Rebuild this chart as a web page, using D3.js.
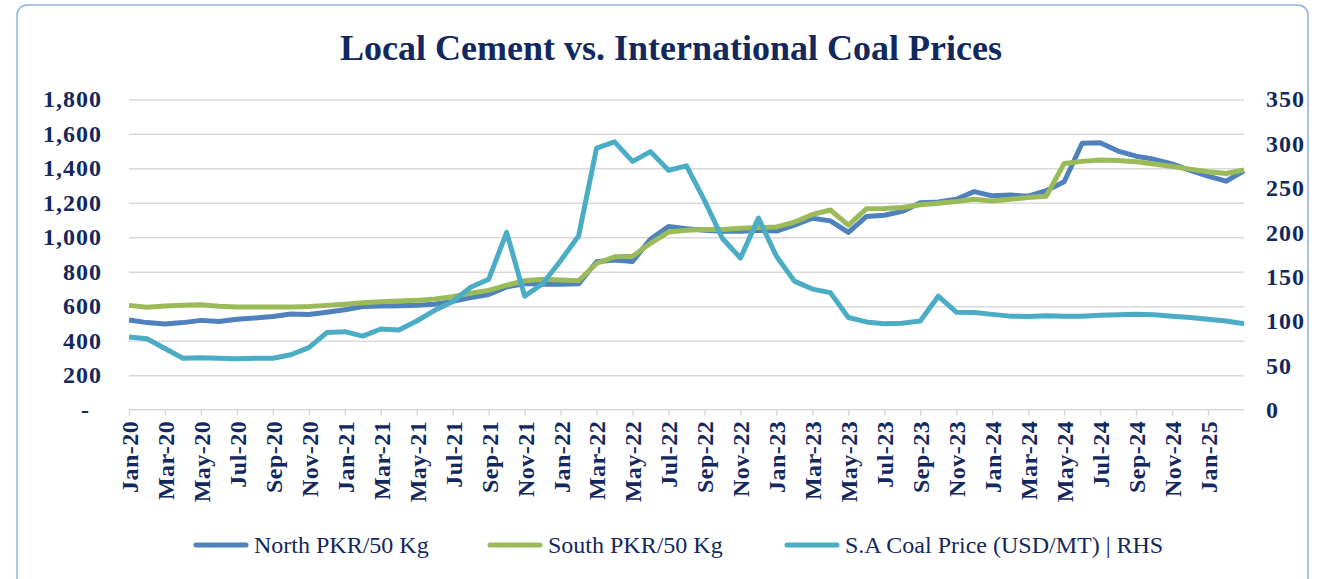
<!DOCTYPE html>
<html>
<head>
<meta charset="utf-8">
<script src="https://cdn.jsdelivr.net/npm/d3@7"></script>
<style>
	body { margin: 0; background: #fff; }
	svg { display: block; }
	.grid line { stroke: #d9d9d9; stroke-width: 1.5; }
	.grid path { display: none; }
	.tick-label text { font-family: 'Liberation Serif', serif; font-weight: bold; font-size: 24px; fill: #13285e; letter-spacing: 1px; }
	.x.axis path, .x.axis line { stroke: #d9d9d9; stroke-width: 1.5; }
	.legend text { font-family: 'Liberation Serif', serif; font-size: 24px; fill: #13285e; }
</style>
</head>
<body>
<div id="chart"></div>
<script>
var months = [
	'Jan-20','Feb-20','Mar-20','Apr-20','May-20','Jun-20','Jul-20','Aug-20','Sep-20','Oct-20','Nov-20','Dec-20',
	'Jan-21','Feb-21','Mar-21','Apr-21','May-21','Jun-21','Jul-21','Aug-21','Sep-21','Oct-21','Nov-21','Dec-21',
	'Jan-22','Feb-22','Mar-22','Apr-22','May-22','Jun-22','Jul-22','Aug-22','Sep-22','Oct-22','Nov-22','Dec-22',
	'Jan-23','Feb-23','Mar-23','Apr-23','May-23','Jun-23','Jul-23','Aug-23','Sep-23','Oct-23','Nov-23','Dec-23',
	'Jan-24','Feb-24','Mar-24','Apr-24','May-24','Jun-24','Jul-24','Aug-24','Sep-24','Oct-24','Nov-24','Dec-24',
	'Jan-25','Feb-25','Mar-25'
];

// PKR per 50 kg bag
var north = [
	520, 505, 497, 505, 518, 512, 525, 532, 540, 555, 552, 565,
	580, 598, 602, 603, 606, 612, 628, 650, 668, 712, 732, 728,
	727, 730, 858, 868, 860, 990, 1062, 1050, 1040, 1035, 1035, 1040,
	1036, 1070, 1110, 1095, 1028, 1120, 1128, 1150, 1200, 1205, 1220, 1265,
	1240, 1245, 1238, 1270, 1322, 1545, 1548, 1500, 1470, 1452, 1425, 1388,
	1355, 1325, 1385
];
var south = [
	605, 594, 602, 606, 608, 600, 596, 595, 595, 596, 598, 605,
	612, 620, 626, 630, 634, 642, 655, 675, 692, 722, 748, 756,
	752, 748, 848, 887, 890, 965, 1030, 1040, 1045, 1045, 1052, 1056,
	1060, 1088, 1132, 1158, 1070, 1165, 1167, 1172, 1188, 1197, 1207, 1220,
	1210, 1220, 1230, 1238, 1428, 1440, 1448, 1445, 1438, 1425, 1410, 1395,
	1380, 1370, 1390
];
// USD per metric ton (right axis)
var coal = [
	82, 80, 69, 58, 58.5, 58, 57.5, 58, 58, 62, 70, 87,
	88, 83, 91, 90, 100, 112, 122, 138, 147, 200, 128, 142,
	168, 196, 295, 302, 280, 291, 270, 275, 236, 193, 171, 216,
	173, 145, 136, 132, 104, 99, 97, 97.5, 100, 128, 110, 109.5,
	107.5, 105.5, 105, 106, 105.5, 105.5, 106.5, 107, 107.5, 107, 105.5, 104,
	102, 100, 97
];

var leftTicks = [0, 200, 400, 600, 800, 1000, 1200, 1400, 1600, 1800];
var rightTicks = [0, 50, 100, 150, 200, 250, 300, 350];

var title = 'Local Cement vs. International Coal Prices';
var seriesNames = ['North PKR/50 Kg', 'South PKR/50 Kg', 'S.A Coal Price (USD/MT) | RHS'];
var colors = ['#4f81bd', '#9bbb59', '#4bacc6'];

var W = 1321, H = 579;
var plot = { left: 129, right: 1244, top: 99.3, bottom: 409.7 };

var svg = d3.select('#chart').append('svg')
	.attr('width', W)
	.attr('height', H);

// outer frame
svg.append('rect')
	.attr('x', 17).attr('y', 5)
	.attr('width', 1291).attr('height', 620)
	.attr('rx', 10)
	.attr('fill', 'none')
	.attr('stroke', '#8db3e2')
	.attr('stroke-width', 1.5);

svg.append('text')
	.attr('x', 671)
	.attr('y', 60)
	.attr('text-anchor', 'middle')
	.style('font-family', "'Liberation Serif', serif")
	.style('font-weight', 'bold')
	.style('font-size', '36px')
	.style('fill', '#13285e')
	.text(title);

var x = d3.scalePoint().domain(months).range([plot.left, plot.right]);
var yL = d3.scaleLinear().domain([0, 1800]).range([plot.bottom, plot.top]);
var yR = d3.scaleLinear().domain([0, 350]).range([plot.bottom, plot.top]);

// gridlines
svg.append('g')
	.attr('class', 'grid')
	.attr('transform', 'translate(' + plot.left + ',0)')
	.call(d3.axisLeft(yL).tickValues(leftTicks.slice(1)).tickSize(-(plot.right - plot.left)).tickFormat(''));

// left labels
var fmt = d3.format(',');
var left = svg.append('g')
	.attr('class', 'tick-label')
	.attr('transform', 'translate(' + plot.left + ',0)')
	.call(d3.axisLeft(yL).tickValues(leftTicks).tickSize(0).tickPadding(27)
		.tickFormat(function(d) { return d === 0 ? '-' : fmt(d); }));
left.select('.domain').remove();
left.selectAll('.tick text').filter(function(d) { return d === 0; }).attr('dx', -12);

// right labels
var right = svg.append('g')
	.attr('class', 'tick-label')
	.attr('transform', 'translate(' + plot.right + ',0)')
	.call(d3.axisRight(yR).tickValues(rightTicks).tickSize(0).tickPadding(22));
right.select('.domain').remove();

// x axis: every other month, last month left unlabelled
var xTicks = months.filter(function(d, i) { return i % 2 === 0 && i < months.length - 1; });
var xAxis = svg.append('g')
	.attr('class', 'x axis')
	.attr('transform', 'translate(0,' + plot.bottom + ')')
	.call(d3.axisBottom(x).tickValues(xTicks).tickSizeOuter(0).tickSizeInner(6).tickPadding(8));
xAxis.select('.domain').attr('d', 'M' + plot.left + ',0H' + plot.right);
xAxis.selectAll('.tick text')
	.attr('transform', 'rotate(-90)')
	.attr('text-anchor', 'end')
	.attr('x', -11)
	.attr('y', 0)
	.attr('dy', '0.35em')
	.style('font-family', "'Liberation Serif', serif")
	.style('font-weight', 'bold')
	.style('font-size', '24px')
	.style('fill', '#13285e')
	.style('letter-spacing', '0.5px');

// series
var lineL = d3.line()
	.x(function(d, i) { return x(months[i]); })
	.y(function(d) { return yL(d); });
var lineR = d3.line()
	.x(function(d, i) { return x(months[i]); })
	.y(function(d) { return yR(d); });

[[north, lineL], [south, lineL], [coal, lineR]].forEach(function(s, k) {
	svg.append('path')
		.datum(s[0])
		.attr('fill', 'none')
		.attr('stroke', colors[k])
		.attr('stroke-width', 5)
		.attr('stroke-linejoin', 'round')
		.attr('d', s[1]);
});

// legend
var legendX = [194, 488, 785];
var legend = svg.append('g').attr('class', 'legend');
seriesNames.forEach(function(name, i) {
	var g = legend.append('g').attr('transform', 'translate(' + legendX[i] + ',545)');
	g.append('line')
		.attr('x1', 2).attr('x2', 52)
		.attr('stroke', colors[i])
		.attr('stroke-width', 5)
		.attr('stroke-linecap', 'round');
	g.append('text')
		.attr('x', 60)
		.attr('dy', '0.35em')
		.text(name);
});
</script>
</body>
</html>
